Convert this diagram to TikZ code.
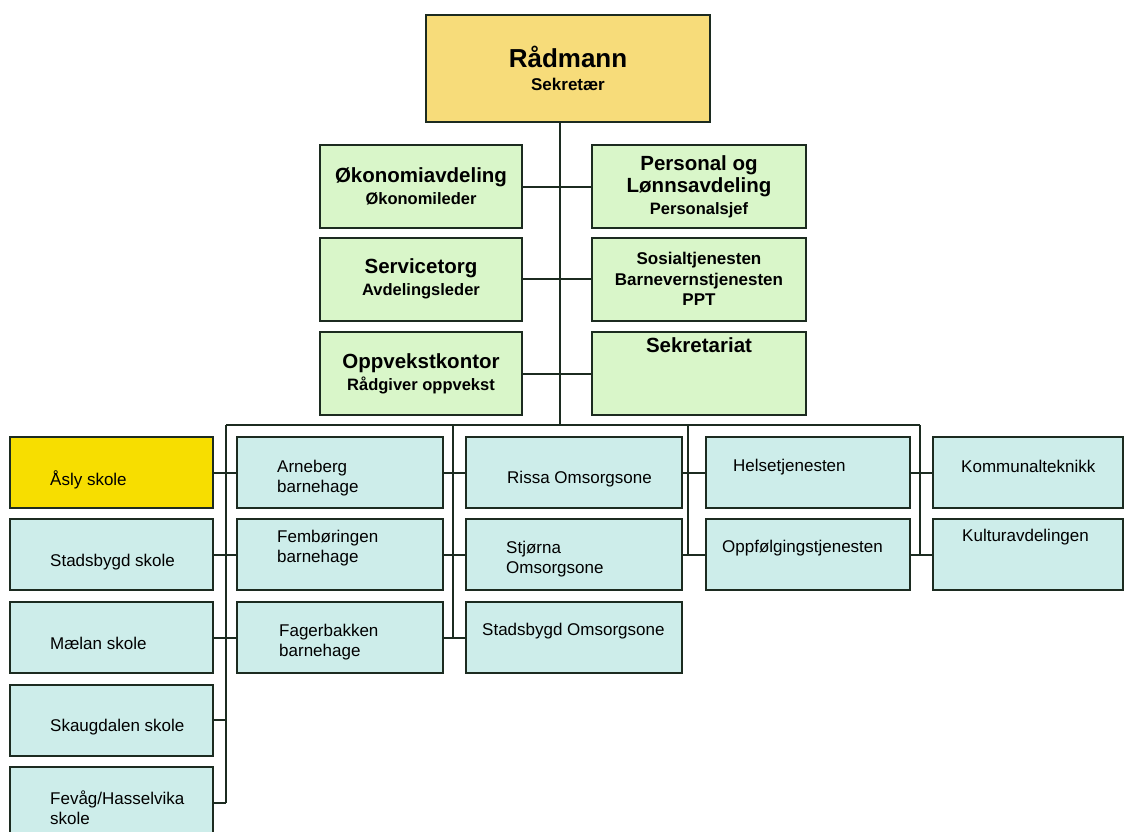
\documentclass[tikz,border=0pt]{standalone}
\usepackage{fontspec}
\setmainfont{Liberation Sans}
\definecolor{radfill}{HTML}{F7DC7A}
\definecolor{deptfill}{HTML}{D9F6C9}
\definecolor{unitfill}{HTML}{CDEDEA}
\definecolor{aslyfill}{HTML}{F7DE00}
\definecolor{edge}{HTML}{1C2B20}
\newcommand{\roleline}[1]{{\fontsize{16.5}{19}\selectfont #1}}

\begin{document}
\begin{tikzpicture}[x=1pt,y=-1pt,
    rad/.style={draw=edge, line width=2pt, fill=radfill, minimum width=284pt, minimum height=107pt, align=center},
    dept/.style={draw=edge, line width=2pt, fill=deptfill, minimum height=83pt, align=center, font=\fontsize{20.5}{22}\selectfont\bfseries},
    unit/.style={draw=edge, line width=2pt, fill=unitfill, minimum height=71pt},
    utext/.style={anchor=west, inner sep=0pt, align=left, font=\fontsize{17}{20}\selectfont},
    link/.style={draw=edge, line width=2pt}]
    \useasboundingbox (0,0) rectangle (1126,831);
    \clip (0,0) rectangle (1126,831);

    % ledelse og stab
    \node[rad] (rad) at (568,68.5) {\fontsize{26}{28}\selectfont\bfseries Rådmann\\[9pt]\fontsize{17}{20}\selectfont\bfseries Sekretær};
    \node[dept, minimum width=202pt] (okon) at (421,186.5) {Økonomiavdeling\\\roleline{Økonomileder}};
    \node[dept, minimum width=214pt] (pers) at (699,186.5) {Personal og\\Lønnsavdeling\\\roleline{Personalsjef}};
    \node[dept, minimum width=202pt] (serv) at (421,279) {Servicetorg\\\roleline{Avdelingsleder}};
    \node[dept, minimum width=214pt, font=\fontsize{17}{20.5}\selectfont\bfseries] (sosial) at (699,279) {Sosialtjenesten\\Barnevernstjenesten\\PPT};
    \node[dept, minimum width=202pt] (oppv) at (421,373.5) {Oppvekstkontor\\\roleline{Rådgiver oppvekst}};
    \node[dept, minimum width=214pt, text depth=57pt] (sekr) at (699,373.5) {Sekretariat};

    % enheter
    \node[unit, minimum width=203pt, fill=aslyfill, label={[utext, xshift=41pt, yshift=-7pt]west:Åsly skole}] (asly) at (111.5,472.5) {};
    \node[unit, minimum width=203pt, label={[utext, xshift=41pt, yshift=-8pt]west:Stadsbygd skole}] (stad) at (111.5,554.5) {};
    \node[unit, minimum width=203pt, label={[utext, xshift=41pt, yshift=-6pt]west:Mælan skole}] (maelan) at (111.5,637.5) {};
    \node[unit, minimum width=203pt, label={[utext, xshift=41pt, yshift=-7pt]west:Skaugdalen skole}] (skaug) at (111.5,720) {};
    \node[unit, minimum width=203pt, label={[utext, xshift=41pt, yshift=-5pt]west:Fevåg/Hasselvika\\skole}] (fevag) at (111.5,802.5) {};

    \node[unit, minimum width=206pt, label={[utext, xshift=41pt, yshift=-6pt]west:Arneberg\\barnehage}] (arne) at (340,472.5) {};
    \node[unit, minimum width=206pt, label={[utext, xshift=41pt, yshift=6.5pt]west:Fembøringen\\barnehage}] (femb) at (340,554.5) {};
    \node[unit, minimum width=206pt, label={[utext, xshift=43pt, yshift=-4.5pt]west:Fagerbakken\\barnehage}] (fager) at (340,637.5) {};

    \node[unit, minimum width=216pt, label={[utext, xshift=42pt, yshift=-6.5pt]west:Rissa Omsorgsone}] (rissa) at (574,472.5) {};
    \node[unit, minimum width=216pt, label={[utext, xshift=41pt, yshift=-5pt]west:Stjørna\\Omsorgsone}] (stjorna) at (574,554.5) {};
    \node[unit, minimum width=216pt, label={[utext, xshift=17pt, yshift=6.5pt]west:Stadsbygd Omsorgsone}] (stadoms) at (574,637.5) {};

    \node[unit, minimum width=204pt, label={[utext, xshift=28pt, yshift=5.5pt]west:Helsetjenesten}] (helse) at (808,472.5) {};
    \node[unit, minimum width=204pt, label={[utext, xshift=17pt, yshift=6.5pt]west:Oppfølgingstjenesten}] (oppf) at (808,554.5) {};

    \node[unit, minimum width=190pt, label={[utext, xshift=29pt, yshift=6.5pt]west:Kommunalteknikk}] (komm) at (1028,472.5) {};
    \node[unit, minimum width=190pt, label={[utext, xshift=30pt, yshift=17pt]west:Kulturavdelingen}] (kultur) at (1028,554.5) {};

    % linjer
    \coordinate (trunk) at (560,425);
    \coordinate (b1) at (226,425);
    \coordinate (b2) at (453,425);
    \coordinate (b3) at (688,425);
    \coordinate (b4) at (920,425);
    \draw[link] (rad.south -| trunk) -- (trunk);
    \draw[link] (b1) -- (b4);
    \draw[link] (okon) -- (pers);
    \draw[link] (serv) -- (sosial);
    \draw[link] (oppv) -- (sekr);

    \draw[link] (b1) -- (b1 |- fevag.east);
    \draw[link] (b2) -- (b2 |- fager.east);
    \draw[link] (b3) -- (b3 |- stjorna.east);
    \draw[link] (b4) -- (b4 |- oppf.east);

    \draw[link] (asly) -- (arne);
    \draw[link] (stad) -- (femb);
    \draw[link] (maelan) -- (fager);
    \draw[link] (skaug.east) -- (skaug.east -| b1);
    \draw[link] (fevag.east) -- (fevag.east -| b1);
    \draw[link] (arne) -- (rissa);
    \draw[link] (femb) -- (stjorna);
    \draw[link] (fager) -- (stadoms);
    \draw[link] (rissa) -- (helse);
    \draw[link] (stjorna) -- (oppf);
    \draw[link] (helse) -- (komm);
    \draw[link] (oppf) -- (kultur);
\end{tikzpicture}
\end{document}
